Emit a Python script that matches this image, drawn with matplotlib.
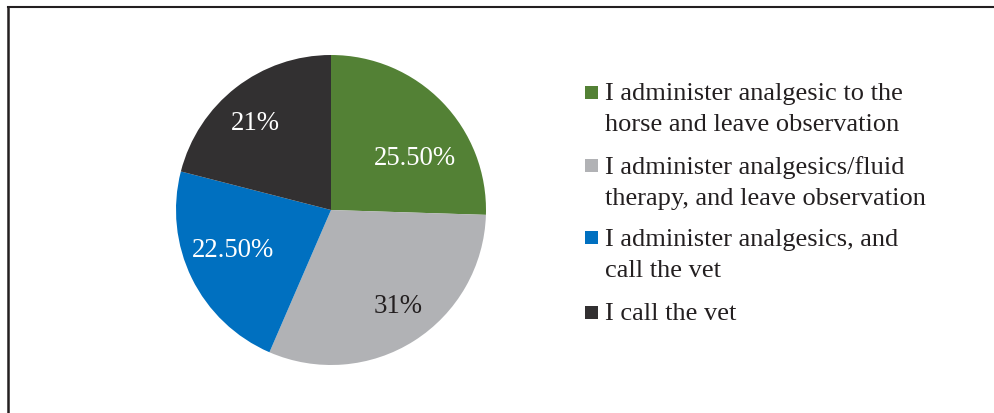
import matplotlib
matplotlib.use("Agg")
import matplotlib.pyplot as plt
from matplotlib.patches import Rectangle
from matplotlib.lines import Line2D
import numpy as np

categories = [
    "I administer analgesic to the\nhorse and leave observation",
    "I administer analgesics/fluid\ntherapy, and leave observation",
    "I administer analgesics, and\ncall the vet",
    "I call the vet",
]
values = [25.5, 31.0, 22.5, 21.0]
value_labels = ["25.50%", "31%", "22.50%", "21%"]
colors = ["#538135", "#B1B2B5", "#0070C0", "#323031"]
label_colors = ["white", "#231F20", "white", "white"]

plt.rcParams['font.family'] = ['Liberation Serif', 'DejaVu Serif']

W, H = 995, 413
fig = plt.figure(figsize=(W / 100, H / 100), dpi=100)

# pie axes: center (331,210), radius 155 px
cx, cy, r = 331, 210, 155
ax = fig.add_axes([(cx - r) / W, 1 - (cy + r) / H, 2 * r / W, 2 * r / H])
wedges, _ = ax.pie(values, colors=colors, startangle=90, counterclock=False,
                   radius=1.0, wedgeprops=dict(linewidth=0))
ax.set_xlim(-1, 1)
ax.set_ylim(-1, 1)
ax.set_aspect('equal')
ax.axis('off')

# label placement (best-fit style offsets, in radius units)
label_pos = [(0.54, 0.33), (0.43, -0.62), (-0.63, -0.26), (-0.49, 0.56)]
for (lx, ly), t, c in zip(label_pos, value_labels, label_colors):
    ax.text(lx, ly, t, ha='center', va='center', fontsize=19.3, color=c)

# legend drawn manually
entry_y = [92, 165, 238, 312]
sq = 13
for y, lab, col in zip(entry_y, categories, colors):
    fig.patches.append(Rectangle(((585) / W, 1 - (y + sq / 2) / H), sq / W, sq / H,
                                 transform=fig.transFigure, facecolor=col,
                                 edgecolor='none'))
    fig.text(605 / W, 1 - (y - 9) / H, lab, ha='left', va='top', fontsize=19,
             color='#231F20', linespacing=1.53)

# border (top and left only)
fig.add_artist(Line2D([8 / W, 1], [1 - 6.5 / H, 1 - 6.5 / H], transform=fig.transFigure,
                      color='#231F20', linewidth=1.5))
fig.add_artist(Line2D([8 / W, 8 / W], [0, 1 - 6.5 / H], transform=fig.transFigure,
                      color='#231F20', linewidth=1.8))

fig.savefig("out.png", dpi=100)
